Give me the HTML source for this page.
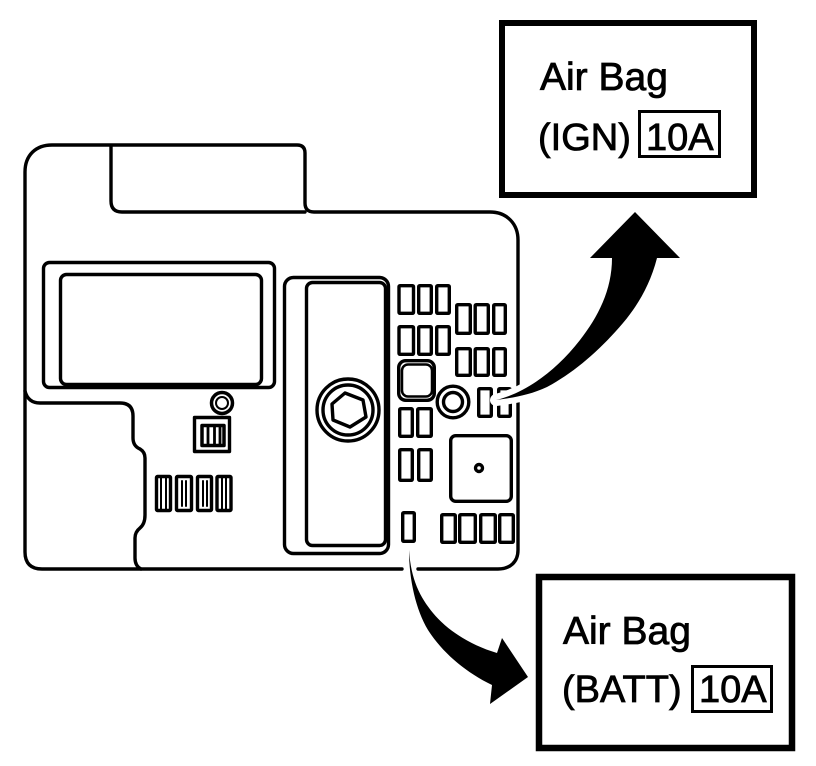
<!DOCTYPE html>
<html><head><meta charset="utf-8"><style>
html,body{margin:0;padding:0;background:#fff}
svg{display:block}
text{font-family:"Liberation Sans",sans-serif;font-size:38px;fill:#000;stroke:#000;stroke-width:.8px}
</style></head><body>
<svg width="816" height="766" viewBox="0 0 816 766" xmlns="http://www.w3.org/2000/svg">
<g fill="none" stroke="#000" stroke-width="3.4" stroke-linejoin="round" stroke-linecap="round">
<path d="M402 569H42Q25 569 25 552V172C25 155 36 145 52 145H297Q305 145 305 153V203Q305 212 314 212H490C507 212 518 224 518 240V550C518 562 510 569 498 569H418"/>
<path d="M111 146V201Q111 212 122 212H305"/>
<path d="M25 391Q28 403 40 403H120Q133 403 133 416V438Q133 446 140 449Q145 452 145 458V515Q145 524 140 528Q135 532 135 538V558Q135 566 141 569"/>
<rect x="43.500" y="262.500" width="231" height="125" rx="6"/>
<rect x="60.500" y="274.500" width="201" height="110" rx="6"/>
<rect x="284.500" y="277.500" width="104" height="276" rx="9"/>
<rect x="306.500" y="282.500" width="79" height="263" rx="6"/>
<circle cx="348" cy="410" r="31"/>
<circle cx="348" cy="410" r="25"/>
<path d="M345 393L363 400L366 417L350 427L333 420L332 404Z"/>
<rect x="399" y="285.700" width="14.500" height="27.600" rx="1"/><rect x="418.700" y="285.700" width="12.600" height="27.600" rx="1"/><rect x="436.700" y="285.700" width="12.600" height="27.600" rx="1"/>
<rect x="399" y="326.700" width="14.500" height="27.600" rx="1"/><rect x="418.700" y="326.700" width="12.600" height="27.600" rx="1"/><rect x="436.700" y="326.700" width="12.600" height="27.600" rx="1"/>
<rect x="456.700" y="304.700" width="13.600" height="28.600" rx="1"/><rect x="475.200" y="304.700" width="13.100" height="28.600" rx="1"/><rect x="493.700" y="304.700" width="11.600" height="28.600" rx="1"/>
<rect x="456.700" y="348.700" width="13.600" height="26.600" rx="1"/><rect x="475.200" y="348.700" width="13.100" height="26.600" rx="1"/><rect x="493.700" y="348.700" width="11.600" height="26.600" rx="1"/>
<rect x="398.700" y="360.700" width="35.600" height="39.600" rx="7"/>
<rect x="402" y="364.500" width="30" height="32" rx="6" stroke-width="2.500"/>
<circle cx="453" cy="402" r="15.800"/>
<circle cx="453" cy="402" r="9.500"/>
<rect x="478.700" y="388.700" width="12.600" height="27.600" rx="1"/>
<rect x="498.700" y="388.700" width="11.600" height="27.600" rx="1"/>
<rect x="399.700" y="408.700" width="12.600" height="27.600" rx="1"/><rect x="417.700" y="408.700" width="13.600" height="27.600" rx="1"/>
<rect x="399.700" y="449.700" width="12.600" height="30.600" rx="1"/><rect x="418.700" y="449.700" width="12.600" height="30.600" rx="1"/>
<rect x="450.700" y="435.700" width="60.600" height="65.600" rx="5"/>
<circle cx="479" cy="468" r="3.500"/>
<rect x="402.700" y="512.700" width="11.600" height="28.600" rx="1"/>
<rect x="441.700" y="514.700" width="13.600" height="27.600" rx="1"/><rect x="459.700" y="514.700" width="15.600" height="27.600" rx="1"/><rect x="480.700" y="514.700" width="14.600" height="27.600" rx="1"/><rect x="499.700" y="514.700" width="13.600" height="27.600" rx="1"/>
<circle cx="222" cy="403" r="10.500" stroke-width="3.500"/>
<circle cx="222" cy="403" r="6" stroke-width="2"/>
<rect x="194.500" y="417.500" width="35" height="34"/>
<rect x="202" y="425.500" width="22" height="20" stroke-width="3.500"/>
<path d="M208 427V445M214.500 427V445M220 427V445" stroke-width="2.800"/>
<rect x="156.500" y="476.500" width="14" height="34" rx="1"/><rect x="176.500" y="476.500" width="15" height="34" rx="1"/><rect x="197.500" y="476.500" width="14" height="34" rx="1"/><rect x="217" y="476.500" width="14" height="34" rx="1"/>
<path d="M161 478V509M166 478V509M182 481V506M186 481V506M203 481V506M207 481V506M222 478V509M226 478V509" stroke-width="2"/>
</g>
<!-- top arrow -->
<path d="M496 400C525 393 555 372 580 340C598 317 612 290 612 258H590L635 212L680 258H657C650 285 638 305 623 323C600 350 575 372 547 387C530 395 512 398 496 400Z" fill="#fff" stroke="#fff" stroke-width="12" stroke-linejoin="round"/>
<path d="M496 400C525 393 555 372 580 340C598 317 612 290 612 258H590L635 212L680 258H657C650 285 638 305 623 323C600 350 575 372 547 387C530 395 512 398 496 400Z" fill="#000"/>
<!-- bottom arrow -->
<path d="M409 550C409 580 416 610 428 630C442 652 465 672 492 685L490 704L528 677L502 638L497 653C470 645 447 630 433 613C420 597 411 580 409 550Z" fill="#000"/>
<!-- labels -->
<g fill="none" stroke="#000" stroke-linejoin="miter">
<rect x="502" y="23" width="252" height="172" stroke-width="6"/>
<rect x="539" y="577" width="253" height="171" stroke-width="6.500"/>
<rect x="639.500" y="111.500" width="80" height="45" stroke-width="3"/>
<rect x="692.500" y="666.500" width="79" height="45" stroke-width="3"/>
</g>
<text x="540" y="90" style="font-size:39px">Air Bag</text>
<text x="538" y="150">(IGN)</text>
<text x="646" y="150">10A</text>
<text x="563" y="644" style="font-size:39px">Air Bag</text>
<text x="562" y="702">(BATT)</text>
<text x="699" y="702">10A</text>
</svg>
</body></html>
